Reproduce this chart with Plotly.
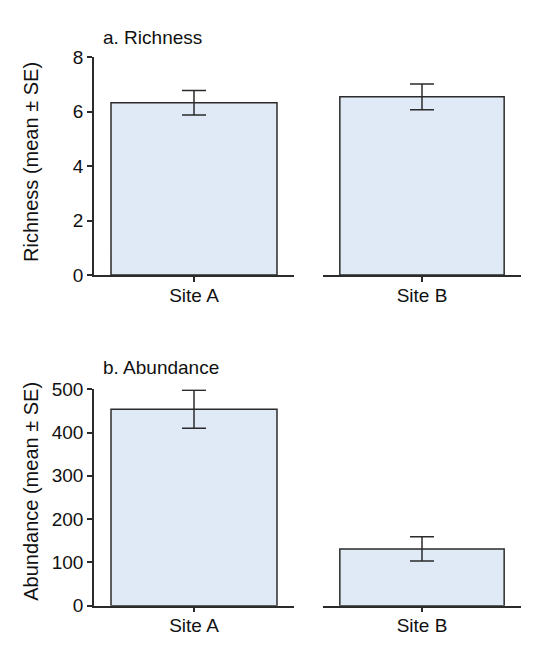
import plotly.graph_objects as go

# Site-level summary statistics (mean ± SE)
sites = ["Site A", "Site B"]
richness_mean = [6.33, 6.55]
richness_se = [0.45, 0.47]
abundance_mean = [454, 131]
abundance_se = [44, 28]

W, H = 539, 646
FONT = "Liberation Sans, Arial, sans-serif"
INK = "#2b2b2b"
FILL = "#dfeaf6"


def px_x(p):
    return p / W


def px_y(p):
    return 1 - p / H


fig = go.Figure()

# one bar per subplot: (xaxis, yaxis, site index, means, ses)
panels = [
    ("x", "y", 0, richness_mean, richness_se),
    ("x2", "y2", 1, richness_mean, richness_se),
    ("x3", "y3", 0, abundance_mean, abundance_se),
    ("x4", "y4", 1, abundance_mean, abundance_se),
]

for xa, ya, i, means, ses in panels:
    fig.add_trace(go.Bar(
        x=[sites[i]], y=[means[i]],
        xaxis=xa, yaxis=ya,
        width=0.83,
        marker=dict(color=FILL, line=dict(color=INK, width=1.5)),
        error_y=dict(type="data", array=[ses[i]], visible=True,
                     color=INK, thickness=1.5, width=12),
        showlegend=False,
    ))

left_dom = [px_x(94), px_x(294)]
right_dom = [px_x(323), px_x(521)]
top_dom = [px_y(274), px_y(49)]
bot_dom = [px_y(615.7), px_y(392)]

xcommon = dict(showline=True, linecolor=INK, linewidth=1.5, ticks="outside",
               ticklen=5, tickwidth=1.5, tickcolor=INK, range=[-0.5, 0.5],
               showgrid=False, zeroline=False, ticklabelstandoff=-3,
               tickfont=dict(family=FONT, size=19, color="#111"))
ycommon = dict(showline=True, linecolor=INK, linewidth=1.5, ticks="outside",
               ticklen=5, tickwidth=1.5, tickcolor=INK, showgrid=False,
               zeroline=False, tickfont=dict(family=FONT, size=19, color="#111"))
yhidden = dict(visible=False, showgrid=False, zeroline=False)

fig.update_layout(
    width=W, height=H,
    margin=dict(l=0, r=0, t=0, b=0),
    paper_bgcolor="white", plot_bgcolor="white",
    xaxis=dict(domain=left_dom, anchor="y", **xcommon),
    xaxis2=dict(domain=right_dom, anchor="y2", **xcommon),
    xaxis3=dict(domain=left_dom, anchor="y3", **xcommon),
    xaxis4=dict(domain=right_dom, anchor="y4", **xcommon),
    yaxis=dict(domain=top_dom, anchor="x", range=[0, 8], tickvals=[0, 2, 4, 6, 8], **ycommon),
    yaxis2=dict(domain=top_dom, anchor="x2", range=[0, 8], **yhidden),
    yaxis3=dict(domain=bot_dom, anchor="x3", range=[0, 500],
                tickvals=[0, 100, 200, 300, 400, 500], **ycommon),
    yaxis4=dict(domain=bot_dom, anchor="x4", range=[0, 500], **yhidden),
)

ann_font = dict(family=FONT, size=19, color="#111")
title_font = dict(family=FONT, size=20, color="#111")
fig.add_annotation(text="a. Richness", xref="paper", yref="paper",
                   x=px_x(101), y=px_y(28), xanchor="left", yanchor="middle",
                   showarrow=False, font=ann_font)
fig.add_annotation(text="b. Abundance", xref="paper", yref="paper",
                   x=px_x(101), y=px_y(369), xanchor="left", yanchor="middle",
                   showarrow=False, font=ann_font)
fig.add_annotation(text="Richness (mean ± SE)", xref="paper", yref="paper",
                   x=px_x(31), y=px_y(157), textangle=-90,
                   xanchor="center", yanchor="middle",
                   showarrow=False, font=title_font)
fig.add_annotation(text="Abundance (mean ± SE)", xref="paper", yref="paper",
                   x=px_x(31), y=px_y(498), textangle=-90,
                   xanchor="center", yanchor="middle",
                   showarrow=False, font=title_font)

fig.write_html("out.html")
